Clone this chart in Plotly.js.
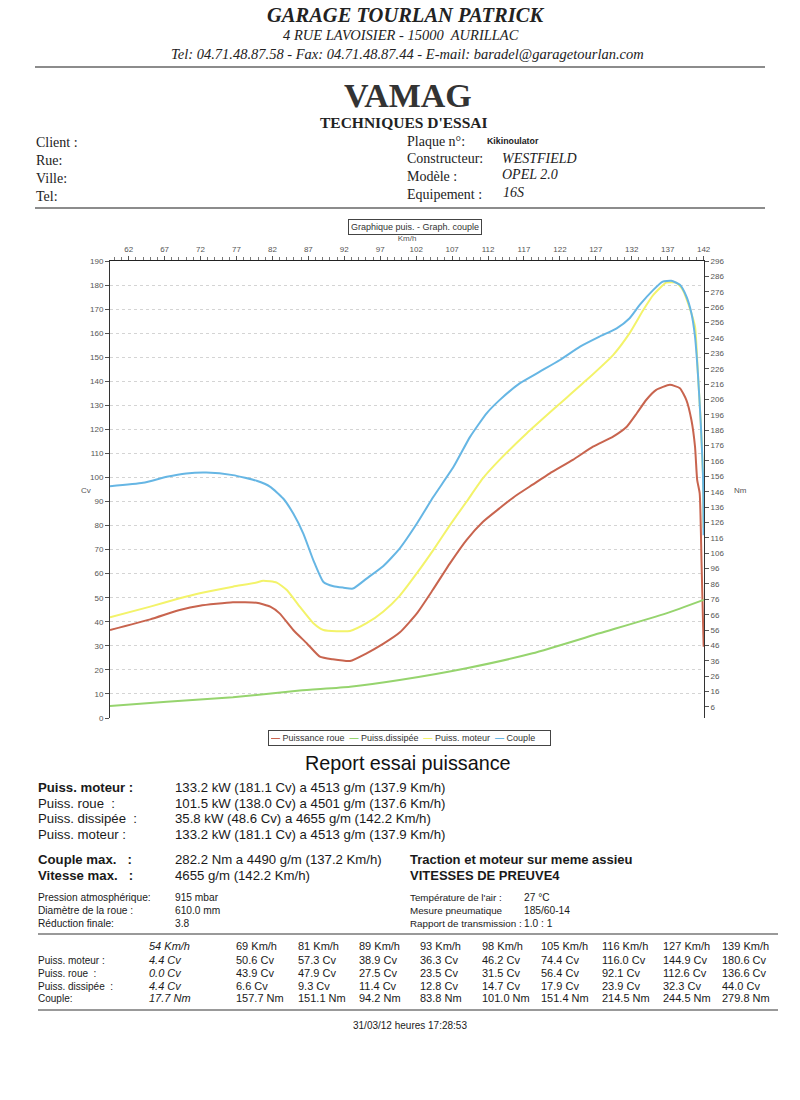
<!DOCTYPE html>
<html><head><meta charset="utf-8">
<script src="https://cdn.plot.ly/plotly-3.0.1.min.js"></script>
<style>body{margin:0;background:#fff}#chart{width:800px;height:1100px}</style>
</head><body><div id="chart"></div>
<script>
// ---- Curve data (read from the dyno sheet) ----
const kmhRoue = [59.4,65,69.1,71.9,76.5,79.8,81.7,83,84.9,86.8,88.6,90.4,92.8,95.1,97.4,99.7,102.1,104.3,106.7,109,111.3,113.6,116,118.2,120.6,123.8,126.6,129.4,131.3,132.7,134,135.4,137.3,138.7,139.6,140.3,140.8,141.1,141.45,141.7,142];
const cvRoue   = [36.6,41,44.9,46.7,48.1,47.9,46.3,43.5,36.6,31,25.5,24.4,23.7,26.9,30.8,35.5,43.5,53.2,64.3,74,81.6,87.2,92.7,97,101.7,107.3,112.8,117,121.1,126.7,132.2,136.4,138.5,137.1,132.2,123.9,112.8,99,93.4,65.7,29.6];

const kmhDissipee = [59.4,67.3,76.5,85.8,92.8,99.7,109,118.2,127.5,136.8,142];
const cvDissipee  = [5.0,6.8,8.6,11.4,13.0,15.8,20.7,26.9,35.2,43.5,49.1];

const kmhMoteur = [59.4,65,69.1,71.9,76.5,79.8,80.7,82.6,84,85.8,87.7,89.1,92.8,95.1,97.4,99.7,102.1,104.4,106.7,109,111.3,113.6,117.4,121.5,125.7,129.4,131.7,133.6,135,136.8,138.2,139.1,140,140.8,141.2,141.6,141.9,142];
const cvMoteur  = [41.9,46.3,49.8,51.9,54.6,56.3,57.1,56.3,53.2,46.3,39.4,36.6,36.2,39.4,44.2,50.8,60.2,69.9,80.2,89.9,99.7,107.3,118.4,129.4,140.5,150.9,160,169.6,175.9,181,181,178,171,162.7,143.4,122.7,101.9,79];

const kmhCouple = [59.4,64,67.3,70,72.8,76.5,79.8,81.7,83.5,84.9,86.3,87.7,89.1,90.5,91.9,93.2,95.1,97.4,99.7,102.1,104.4,107.2,109.5,111.8,113.6,116.4,119.2,122,124.8,127.5,129.9,131.7,133.1,135,136.3,137.5,138.7,139.6,140.3,140.8,141.2,141.6,141.9,142];
const nmCouple  = [149.6,151.8,155.7,157.9,158.5,156.8,153.1,149.2,141.6,131.8,118.8,101.4,87.3,84.5,83.6,83,89.5,97.5,109,125.3,142.7,162.2,181.7,197,205.6,216.5,224.1,231.7,240.4,246.9,252.3,258.9,267.5,277.3,282.7,283.2,280.6,273,262.1,246.9,223,190.5,157.9,117.7];

// ---- Summary table ----
const tableSpeeds   = ["54 Km/h","69 Km/h","81 Km/h","89 Km/h","93 Km/h","98 Km/h","105 Km/h","116 Km/h","127 Km/h","139 Km/h"];
const tableMoteur   = ["4.4 Cv","50.6 Cv","57.3 Cv","38.9 Cv","36.3 Cv","46.2 Cv","74.4 Cv","116.0 Cv","144.9 Cv","180.6 Cv"];
const tableRoue     = ["0.0 Cv","43.9 Cv","47.9 Cv","27.5 Cv","23.5 Cv","31.5 Cv","56.4 Cv","92.1 Cv","112.6 Cv","136.6 Cv"];
const tableDissipee = ["4.4 Cv","6.6 Cv","9.3 Cv","11.4 Cv","12.8 Cv","14.7 Cv","17.9 Cv","23.9 Cv","32.3 Cv","44.0 Cv"];
const tableCouple   = ["17.7 Nm","157.7 Nm","151.1 Nm","94.2 Nm","83.8 Nm","101.0 Nm","151.4 Nm","214.5 Nm","244.5 Nm","279.8 Nm"];
const tableRowLabels = ["Puiss. moteur :","Puiss. roue  :","Puiss. dissipée  :","Couple:"];

const seriesNames = ["Puissance roue","Puiss.dissipée","Puiss. moteur","Couple"];
const colors = ["#c8644e","#96d46e","#f3f36a","#66b6e4"];

// ---- helpers ----
const W=800,H=1100;
const ax = x => x/W, ay = y => 1-y/H;
const SERIF="Liberation Serif, Times New Roman, serif";
const SANS="Liberation Sans, Arial, sans-serif";
const ann=[];
function T(x,y,text,size,o){o=o||{};ann.push({xref:'paper',yref:'paper',x:ax(x),y:ay(y),text:text,showarrow:false,
  xanchor:o.anchor||'left',yanchor:'middle',font:{family:o.family||SANS,size:size,color:o.color||'#1a1a1a'},
  bordercolor:o.border||'rgba(0,0,0,0)',borderwidth:o.border?1:0,borderpad:o.pad||0,width:o.width,align:o.align||'left',bgcolor:o.bg});}
const shapes=[];
function rule(x0,x1,y,c,w){shapes.push({type:'line',xref:'paper',yref:'paper',x0:ax(x0),x1:ax(x1),y0:ay(y),y1:ay(y),line:{color:c||'#555',width:w||1.5}});}

// Header
T(406,15,'<b><i>GARAGE TOURLAN PATRICK</i></b>',20.5,{anchor:'center',family:SERIF,color:'#222'});
T(401,35,'<i>4 RUE LAVOISIER - 15000&nbsp; AURILLAC</i>',14.5,{anchor:'center',family:SERIF,color:'#222'});
T(407,54,'<i>Tel: 04.71.48.87.58 - Fax: 04.71.48.87.44 - E-mail: baradel@garagetourlan.com</i>',14.5,{anchor:'center',family:SERIF,color:'#222'});
rule(35,765,67,'#666',1.5);
T(408,95,'<b>VAMAG</b>',34,{anchor:'center',family:SERIF,color:'#333'});
T(404,122,'<b>TECHNIQUES D\'ESSAI</b>',15.5,{anchor:'center',family:SERIF,color:'#222'});
['Client :','Rue:','Ville:','Tel:'].forEach((t,i)=>T(36,142+i*18,t,14,{family:SERIF,color:'#222'}));
T(407,141,'Plaque n°:',14,{family:SERIF,color:'#222'});
T(487,141,'<b>Kikinoulator</b>',8.8,{family:SANS,color:'#222'});
T(407,158,'Constructeur:',14,{family:SERIF,color:'#222'});
T(502,158,'<i>WESTFIELD</i>',14,{family:SERIF,color:'#222'});
T(407,176,'Modèle :',14,{family:SERIF,color:'#222'});
T(502,175,'<i>OPEL 2.0</i>',14,{family:SERIF,color:'#222'});
T(407,194,'Equipement :',14,{family:SERIF,color:'#222'});
T(503,193,'<i>16S</i>',14,{family:SERIF,color:'#222'});
rule(35,765,208,'#666',1.5);

// Chart decorations
T(415,227,'Graphique puis. - Graph. couple',9,{anchor:'center',border:'#444',pad:2,color:'#333'});
T(86,490,'Cv',8,{anchor:'center',color:'#555'});
T(740,490,'Nm',8,{anchor:'center',color:'#555'});
const legText = seriesNames.map((n,i)=>'<span style="color:'+colors[i]+'"><b>—</b></span> '+n).join('&nbsp;&nbsp;');
T(410,738,legText,9,{anchor:'center',border:'#444',pad:2,width:277,color:'#333'});

// Report
T(408,763,'Report essai puissance',19.8,{anchor:'center',color:'#111'});
const rep=[['<b>Puiss. moteur :</b>','133.2 kW (181.1 Cv) a 4513 g/m (137.9 Km/h)',787],
 ['Puiss. roue  :','101.5 kW (138.0 Cv) a 4501 g/m (137.6 Km/h)',803],
 ['Puiss. dissipée  :','35.8 kW (48.6 Cv) a 4655 g/m (142.2 Km/h)',818],
 ['Puiss. moteur :','133.2 kW (181.1 Cv) a 4513 g/m (137.9 Km/h)',834],
 ['<b>Couple max.   :</b>','282.2 Nm a 4490 g/m (137.2 Km/h)',859],
 ['<b>Vitesse max.   :</b>','4655 g/m (142.2 Km/h)',875]];
rep.forEach(r=>{T(38,r[2],r[0].replace(/  /g,'&nbsp; '),13.2);T(175,r[2],r[1],13.2);});
T(410,859,'<b>Traction et moteur sur meme assieu</b>',13,{});
T(410,875,'<b>VITESSES DE PREUVE4</b>',13,{});
[['Pression atmosphérique:','915 mbar'],['Diamètre de la roue :','610.0 mm'],['Réduction finale:','3.8']]
 .forEach((r,i)=>{T(38,897+i*13,r[0],10.2);T(175,897+i*13,r[1],10.2);});
[['Température de l\'air :','27 °C'],['Mesure pneumatique','185/60-14'],['Rapport de transmission :','1.0 : 1']]
 .forEach((r,i)=>{T(410,897+i*13,r[0],9.8);T(524,897+i*13,r[1],10.2);});

// Table
rule(38,778,934,'#777',1.5);
const colX=[149,236,298,359,420,482,541,602,663,722];
const rowY=[946,960,973,986,998];
const rows=[tableSpeeds,tableMoteur,tableRoue,tableDissipee,tableCouple];
rows.forEach((arr,r)=>arr.forEach((v,c)=>T(colX[c],rowY[r],c===0?'<i>'+v+'</i>':v,11)));
tableRowLabels.forEach((l,i)=>T(38,rowY[i+1],l.replace(/  /g,'&nbsp; '),10));
rule(38,778,1010,'#777',1.5);
T(410,1025,'31/03/12 heures 17:28:53',10,{anchor:'center'});

// ---- traces ----
const lineCommon={shape:'spline',smoothing:0.5,width:2};
const traces=[
 {x:kmhRoue,y:cvRoue,name:seriesNames[0],type:'scatter',mode:'lines',line:Object.assign({color:colors[0]},lineCommon)},
 {x:kmhDissipee,y:cvDissipee,name:seriesNames[1],type:'scatter',mode:'lines',line:Object.assign({color:colors[1]},lineCommon)},
 {x:kmhMoteur,y:cvMoteur,name:seriesNames[2],type:'scatter',mode:'lines',line:Object.assign({color:colors[2]},lineCommon)},
 {x:kmhCouple,y:nmCouple,name:seriesNames[3],type:'scatter',mode:'lines',yaxis:'y2',line:Object.assign({color:colors[3]},lineCommon)}
];

const tickFont={family:SANS,size:8,color:'#555'};
const layout={
 width:W,height:H,margin:{l:0,r:0,t:0,b:0},
 paper_bgcolor:'#ffffff',plot_bgcolor:'#ffffff',showlegend:false,
 xaxis:{domain:[110/W,704/W],side:'top',range:[59.4,142.05],tick0:2,dtick:5,ticks:'outside',ticklen:4,tickcolor:'#555',
   tickfont:tickFont,showline:true,linecolor:'#222',linewidth:1.5,showgrid:false,zeroline:false,
   minor:{dtick:1,ticklen:2.5,tickcolor:'#777',ticks:'outside'},
   title:{text:'Km/h',font:{family:SANS,size:8,color:'#555'},standoff:2}},
 yaxis:{domain:[ay(718),ay(261)],range:[0,190],dtick:10,ticks:'outside',ticklen:4,tickcolor:'#555',tickfont:tickFont,
   showline:true,linecolor:'#333',linewidth:1,showgrid:true,gridcolor:'#d4d4d4',griddash:'dot',zeroline:false},
 yaxis2:{overlaying:'y',side:'right',anchor:'x',range:[-1.2,296.1],tick0:6,dtick:10,ticks:'outside',ticklen:4,tickcolor:'#555',
   tickfont:tickFont,showline:true,linecolor:'#333',linewidth:1,showgrid:false,zeroline:false},
 annotations:ann,shapes:shapes
};
Plotly.newPlot('chart',traces,layout,{staticPlot:true});
</script></body></html>
